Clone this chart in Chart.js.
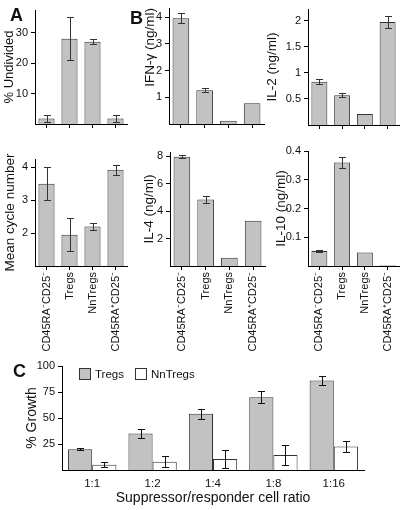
<!DOCTYPE html>
<html>
<head>
<meta charset="utf-8">
<script src="https://cdn.jsdelivr.net/npm/chart.js@4.4.0/dist/chart.umd.min.js"></script>
<style>
  body { margin: 0; background: #fff; }
  #fig { position: relative; width: 406px; height: 510px; overflow: hidden; font-family: "Liberation Sans", Arial, sans-serif; color: #111; }
  #fig canvas { position: absolute; }
  .tag { position: absolute; font-weight: bold; font-size: 18px; line-height: 18px; }
  .swatch { position: absolute; width: 10px; height: 10px; border: 1px solid #333; }
  .key { position: absolute; font-size: 11.5px; line-height: 12px; }
</style>
</head>
<body>
<div id="fig">
  <canvas id="undivided"></canvas>
  <canvas id="cycles"></canvas>
  <canvas id="ifn"></canvas>
  <canvas id="il2"></canvas>
  <canvas id="il4"></canvas>
  <canvas id="il10"></canvas>
  <canvas id="growth"></canvas>

  <div class="tag" style="left:10px;top:6px">A</div>
  <div class="tag" style="left:130px;top:9px">B</div>
  <div class="tag" style="left:13px;top:362px">C</div>

  <div class="swatch" style="left:79px;top:368px;background:#c2c2c2"></div>
  <div class="key" style="left:95px;top:368px">Tregs</div>
  <div class="swatch" style="left:135px;top:368px;background:#fff"></div>
  <div class="key" style="left:151px;top:368px">NnTregs</div>
</div>

<script>
// cell populations (panels A and B)
const groups = ['CD45RA\u207BCD25\u207B', 'Tregs', 'NnTregs', 'CD45RA\u207ACD25\u207B'];

const undivided = [1.8, 28, 27, 1.8];
const undividedErr = [1, 7, 0.8, 1];
const undividedTicks = [10, 20, 30];

const cycleNumber = [3.5, 1.95, 2.2, 3.92];
const cycleErr = [0.5, 0.5, 0.1, 0.16];
const cycleTicks = [2, 3, 4];

const ifn = [3.97, 1.27, 0.12, 0.78];
const ifnErr = [0.2, 0.07, 0, 0];
const ifnTicks = [1, 2, 3, 4];

const il2 = [0.83, 0.57, 0.21, 1.98];
const il2Err = [0.05, 0.04, 0, 0.12];
const il2Ticks = [0.5, 1, 1.5, 2];

const il4 = [7.95, 4.85, 0.6, 3.3];
const il4Err = [0.1, 0.25, 0, 0];
const il4Ticks = [2, 4, 6, 8];

const il10 = [0.052, 0.36, 0.047, 0.003];
const il10Err = [0.003, 0.02, 0, 0];
const il10Ticks = [0.1, 0.2, 0.3, 0.4];

// suppression assay (panel C)
const ratios = ['1:1', '1:2', '1:4', '1:8', '1:16'];
const tregsGrowth = [20, 35, 54, 70, 86];
const tregsErr = [1, 4, 5, 6, 4];
const nnTregsGrowth = [5, 8, 10.5, 14.5, 22.5];
const nnTregsErr = [2.5, 5, 8.5, 10, 5];
const growthTicks = [25, 50, 75, 100];

Chart.defaults.font.family = '"Liberation Sans", Arial, sans-serif';
Chart.defaults.color = '#111';

const GREY = '#c2c2c2';
const EDGE = '#333';

// draws +/- error whiskers on top of the bars
const errorBars = {
  id: 'errorBars',
  afterDatasetsDraw(chart, args, opts) {
    const ctx = chart.ctx;
    const y = chart.scales.y;
    chart.data.datasets.forEach((ds, di) => {
      if (!ds.errors) return;
      const meta = chart.getDatasetMeta(di);
      meta.data.forEach((bar, i) => {
        const e = ds.errors[i];
        if (!e) return;
        const x = Math.round(bar.x) + 0.5;
        const top = Math.round(y.getPixelForValue(ds.data[i] + e)) + 0.5;
        const bot = Math.round(y.getPixelForValue(ds.data[i] - e)) + 0.5;
        ctx.save();
        ctx.strokeStyle = opts.color || '#333';
        ctx.lineWidth = 1;
        ctx.beginPath();
        ctx.moveTo(x, top); ctx.lineTo(x, bot);
        ctx.moveTo(x - opts.cap, top); ctx.lineTo(x + opts.cap, top);
        ctx.moveTo(x - opts.cap, bot); ctx.lineTo(x + opts.cap, bot);
        ctx.stroke();
        ctx.restore();
      });
    });
  }
};
Chart.register(errorBars);

function place(id, box) {
  const el = document.getElementById(id);
  el.width = box.width;
  el.height = box.height;
  el.style.left = box.left + 'px';
  el.style.top = box.top + 'px';
  return el;
}

function yAxis(ticks, min, max, title, box) {
  return {
    min: min,
    max: max,
    grid: { drawOnChartArea: false, drawTicks: true, tickLength: 4, color: '#000' },
    border: { display: true, color: '#000' },
    ticks: { font: { size: 11 }, padding: 3, callback: v => String(v) },
    afterBuildTicks(s) { s.ticks = ticks.map(v => ({ value: v })); },
    afterFit(s) { s.width = box.yW; s.paddingTop = 0; s.paddingBottom = 0; },
    title: {
      display: true, text: title, align: box.titleAlign || 'center',
      font: { size: box.titleSize || 13.5 }, padding: { top: 2, bottom: 2 }
    }
  };
}

function cellChart(id, box, values, errs, ticks, min, max, title, showLabels) {
  const el = place(id, box);
  return new Chart(el, {
    type: 'bar',
    data: {
      labels: groups,
      datasets: [{
        data: values,
        errors: errs,
        backgroundColor: GREY,
        borderColor: EDGE,
        borderWidth: 1,
        barPercentage: 0.7,
        categoryPercentage: 1
      }]
    },
    options: {
      responsive: false,
      animation: false,
      layout: { padding: { top: box.padTop, right: 4, left: 0, bottom: 0 } },
      plugins: {
        legend: { display: false },
        tooltip: { enabled: false },
        errorBars: { color: '#333', cap: 3.5 }
      },
      scales: {
        x: {
          offset: true,
          grid: { display: true, drawOnChartArea: false, drawTicks: true, tickLength: 4, color: '#000', offset: false },
          border: { display: true, color: '#000' },
          ticks: { display: showLabels, minRotation: 90, maxRotation: 90, autoSkip: false, font: { size: 11 }, padding: 2 },
          afterFit(s) { s.height = box.xH; s.paddingLeft = 0; s.paddingRight = 0; }
        },
        y: yAxis(ticks, min, max, title, box)
      }
    }
  });
}

cellChart('undivided', { left: 0, top: 2, width: 131, height: 130, yW: 35, xH: 8, padTop: 8, titleSize: 13 },
  undivided, undividedErr, undividedTicks, 0, 37.4, '% Undivided', false);
cellChart('cycles', { left: 0, top: 151, width: 131, height: 200, yW: 35, xH: 85, padTop: 8 },
  cycleNumber, cycleErr, cycleTicks, 1, 4.25, 'Mean cycle number', true);
cellChart('ifn', { left: 140, top: 0, width: 128, height: 132, yW: 29, xH: 8, padTop: 8, titleAlign: 'end' },
  ifn, ifnErr, ifnTicks, 0, 4.35, 'IFN-\u03B3 (ng/ml)', false);
cellChart('il2', { left: 262, top: 1, width: 141, height: 132, yW: 46, xH: 8, padTop: 8 },
  il2, il2Err, il2Ticks, 0, 2.23, 'IL-2 (ng/ml)', false);
cellChart('il4', { left: 139, top: 144, width: 130, height: 207, yW: 31, xH: 85, padTop: 8 },
  il4, il4Err, il4Ticks, 0, 8.3, 'IL-4 (ng/ml)', true);
cellChart('il10', { left: 271, top: 143, width: 132, height: 208, yW: 37, xH: 85, padTop: 8 },
  il10, il10Err, il10Ticks, 0, 0.4, 'IL-10 (ng/ml)', true);

// panel C
const growthBox = { left: 22, top: 358, width: 346, height: 151, yW: 40, xH: 39, padTop: 8, titleSize: 14 };
new Chart(place('growth', growthBox), {
  type: 'bar',
  data: {
    labels: ratios,
    datasets: [
      { label: 'Tregs', data: tregsGrowth, errors: tregsErr, backgroundColor: GREY, borderColor: EDGE, borderWidth: 1 },
      { label: 'NnTregs', data: nnTregsGrowth, errors: nnTregsErr, backgroundColor: '#fff', borderColor: EDGE, borderWidth: 1 }
    ]
  },
  options: {
    responsive: false,
    animation: false,
    datasets: { bar: { barPercentage: 1, categoryPercentage: 0.8 } },
    layout: { padding: { top: growthBox.padTop, right: 4, left: 0, bottom: 0 } },
    plugins: {
      legend: { display: false },
      tooltip: { enabled: false },
      errorBars: { color: '#111', cap: 3.5 }
    },
    scales: {
      x: {
        grid: { display: false, drawTicks: false },
        border: { display: true, color: '#000' },
        ticks: { font: { size: 11.5 }, padding: 7 },
        title: { display: true, text: 'Suppressor/responder cell ratio', font: { size: 14 }, padding: { top: 2, bottom: 2 } },
        afterFit(s) { s.height = growthBox.xH; s.paddingLeft = 0; s.paddingRight = 0; }
      },
      y: yAxis(growthTicks, 0, 100, '% Growth', growthBox)
    }
  }
});
</script>
</body>
</html>
